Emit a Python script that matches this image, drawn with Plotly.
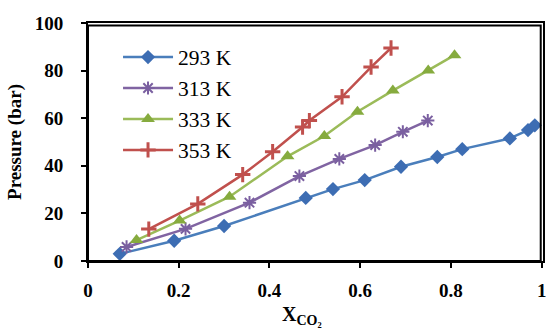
import plotly.graph_objects as go

x293 = [0.07, 0.19, 0.30, 0.48, 0.54, 0.61, 0.69, 0.77, 0.825, 0.93, 0.97, 0.985]
p293 = [3, 8.5, 14.7, 26.5, 30.2, 34, 39.6, 43.7, 47, 51.5, 55, 57]
x313 = [0.085, 0.215, 0.356, 0.466, 0.554, 0.633, 0.694, 0.749]
p313 = [5.9, 13.5, 24.5, 35.7, 42.9, 48.7, 54.3, 59]
x333 = [0.107, 0.202, 0.312, 0.44, 0.521, 0.594, 0.672, 0.75, 0.808]
p333 = [8.8, 17, 27, 44, 52.5, 62.7, 71.6, 80, 86.5]
x353 = [0.134, 0.242, 0.341, 0.407, 0.473, 0.488, 0.560, 0.624, 0.668]
p353 = [13.4, 24, 36.3, 45.9, 56.3, 59, 69, 81.5, 89.5]

names = ["293 K", "313 K", "333 K", "353 K"]
xtick_vals = [0, 0.2, 0.4, 0.6, 0.8, 1]
xtick_text = ["0", "0.2", "0.4", "0.6", "0.8", "1"]
ytick_vals = [0, 20, 40, 60, 80, 100]

SERIF = "Liberation Serif"

fig = go.Figure()
fig.add_trace(go.Scatter(x=x293, y=p293, name=names[0], mode="lines+markers",
                         line=dict(color="#4A7EBB", width=2.5),
                         marker=dict(symbol="diamond", size=11, color="#3D6DB3")))
fig.add_trace(go.Scatter(x=x313, y=p313, name=names[1], mode="lines+markers",
                         line=dict(color="#8064A2", width=2.5),
                         marker=dict(symbol="asterisk-open", size=11, color="#7A5FA0",
                                     line=dict(width=2, color="#7A5FA0"))))
fig.add_trace(go.Scatter(x=x333, y=p333, name=names[2], mode="lines+markers",
                         line=dict(color="#9BBB59", width=2.5),
                         marker=dict(symbol="triangle-up", size=12, color="#86AB3E")))
fig.add_trace(go.Scatter(x=x353, y=p353, name=names[3], mode="lines+markers",
                         line=dict(color="#C0504D", width=2.5),
                         marker=dict(symbol="cross-thin-open", size=11, color="#C0504D",
                                     line=dict(width=3, color="#C0504D"))))

fig.update_layout(
    width=546, height=331,
    margin=dict(l=88, r=3, t=23, b=70),
    paper_bgcolor="white", plot_bgcolor="white",
    font=dict(family=SERIF, color="black"),
    showlegend=True,
    legend=dict(x=0.066, y=0.943, xanchor="left", yanchor="top",
                font=dict(family=SERIF, size=21.5, color="black"),
                bgcolor="rgba(0,0,0,0)", itemwidth=50, tracegroupgap=0),
    xaxis=dict(range=[0, 1.003], tickvals=xtick_vals, ticktext=xtick_text,
               automargin=False, ticklabeloverflow="allow",
               showgrid=False, zeroline=False, showline=True, mirror=True,
               linecolor="black", linewidth=2, ticks="outside", ticklen=5,
               tickcolor="black", tickwidth=2,
               tickfont=dict(family=SERIF, size=19, color="black", weight="bold"),
               ticklabelstandoff=6),
    yaxis=dict(range=[0, 100], tickvals=ytick_vals,
               automargin=False,
               showgrid=False, zeroline=False, showline=True, mirror=True,
               linecolor="black", linewidth=2, ticks="outside", ticklen=5,
               tickcolor="black", tickwidth=2,
               tickfont=dict(family=SERIF, size=19, color="black", weight="bold"),
               ticklabelstandoff=14,
               title=dict(text="<b>Pressure (bar)</b>", standoff=8,
                          font=dict(family=SERIF, size=19, color="black"))),
    shapes=[dict(type="rect", xref="paper", yref="paper", x0=0.0, x1=0.995, y0=0.0, y1=0.99,
                 line=dict(color="black", width=2), fillcolor="rgba(0,0,0,0)", layer="above")],
    annotations=[dict(text="<b>X<sub>CO₂</sub></b>", xref="paper", yref="paper",
                      x=0.47, y=-0.29, xanchor="center", yanchor="bottom", showarrow=False,
                      font=dict(family=SERIF, size=20, color="black"))],
)

fig.write_html("out.html", post_script="document.body.style.margin='0';",
               config={"displayModeBar": False})
